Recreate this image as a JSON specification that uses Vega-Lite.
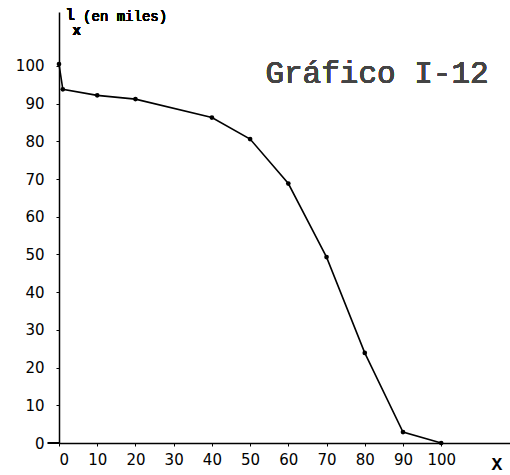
{
  "$schema": "https://vega.github.io/schema/vega-lite/v6.json",
  "autosize": {"type": "none"},
  "padding": {"left": 59, "top": 12, "right": 0, "bottom": 32},
  "width": 451,
  "height": 431,
  "background": "white",
  "config": {"view": {"stroke": null}},
  "data": {"values": [
    {"x": 0, "lx": 100.5},
    {"x": 1, "lx": 93.8},
    {"x": 10, "lx": 92.2},
    {"x": 20, "lx": 91.2},
    {"x": 40, "lx": 86.3},
    {"x": 50, "lx": 80.6},
    {"x": 60, "lx": 68.8},
    {"x": 70, "lx": 49.3},
    {"x": 80, "lx": 23.9},
    {"x": 90, "lx": 2.9},
    {"x": 100, "lx": 0}
  ]},
  "layer": [
    {
      "mark": {"type": "line", "color": "black", "strokeWidth": 1.6},
      "encoding": {
        "x": {"field": "x", "type": "quantitative",
          "scale": {"domain": [0, 118], "nice": false, "zero": false},
          "axis": {"values": [0,10,20,30,40,50,60,70,80,90,100], "grid": false, "domainColor": "black", "domainWidth": 1.5, "tickColor": "black", "tickSize": 3, "labelFont": "DejaVu Sans", "labelFontSize": 15, "labelColor": "black", "labelPadding": 6, "title": "X", "titleFont": "Liberation Mono", "titleFontSize": 18, "titleFontWeight": "bold", "titleColor": "black", "titleX": 432, "titleY": 12, "titleAnchor": "start", "titleAlign": "left", "titleBaseline": "top"}},
        "y": {"field": "lx", "type": "quantitative",
          "scale": {"domain": [0, 114.3], "nice": false, "zero": false},
          "axis": {"values": [0,10,20,30,40,50,60,70,80,90,100], "grid": false, "domainColor": "black", "domainWidth": 1.5, "tickColor": "black", "tickSize": 3, "labelFont": "DejaVu Sans", "labelFontSize": 15, "labelColor": "black", "labelPadding": 12, "title": null}}
      }
    },
    {
      "mark": {"type": "point", "filled": true, "color": "black", "size": 22, "opacity": 1},
      "encoding": {
        "x": {"field": "x", "type": "quantitative"},
        "y": {"field": "lx", "type": "quantitative"}
      }
    },
    {
      "mark": {"type": "rule", "color": "black", "strokeWidth": 1.5},
      "encoding": {"x": {"datum": -2.9}, "x2": {"datum": 0}, "y": {"datum": 0}}
    },
    {
      "mark": {"type": "text", "text": "Gráfico I-12", "font": "Liberation Mono", "fontSize": 31, "align": "left", "baseline": "alphabetic", "color": "#444"},
      "encoding": {"x": {"datum": 54}, "y": {"datum": 95.5}}
    },
    {
      "mark": {"type": "text", "text": "l", "font": "Liberation Mono", "fontSize": 17, "align": "left", "baseline": "alphabetic", "color": "black"},
      "encoding": {"x": {"datum": 1.6}, "y": {"datum": 112.2}}
    },
    {
      "mark": {"type": "text", "text": "x", "font": "Liberation Mono", "fontSize": 14, "fontWeight": "bold", "align": "left", "baseline": "alphabetic", "color": "black"},
      "encoding": {"x": {"datum": 3.5}, "y": {"datum": 108.3}}
    },
    {
      "mark": {"type": "text", "text": "(en miles)", "font": "Liberation Mono", "fontSize": 14, "align": "left", "baseline": "alphabetic", "color": "black"},
      "encoding": {"x": {"datum": 6.3}, "y": {"datum": 112.0}}
    }
  ]
}
